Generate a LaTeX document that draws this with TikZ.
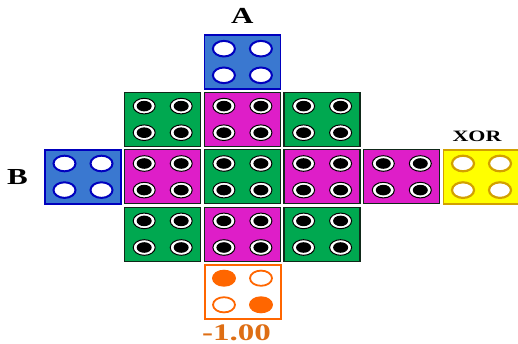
\documentclass[tikz,border=0pt]{standalone}
\usepackage{graphicx}
\usepackage{fontspec}
\setmainfont{Liberation Serif}
\usetikzlibrary{positioning}

\definecolor{tblue}{RGB}{58,120,208}
\definecolor{tbluedark}{RGB}{0,0,190}
\definecolor{tgreen}{RGB}{0,168,80}
\definecolor{tmagenta}{RGB}{222,30,200}
\definecolor{tdark}{RGB}{15,40,25}
\definecolor{tyellow}{RGB}{255,255,0}
\definecolor{tgold}{RGB}{210,160,0}
\definecolor{torange}{RGB}{255,102,0}
\definecolor{tnumber}{RGB}{222,110,20}

\begin{document}
\begin{tikzpicture}[x=1pt, y=-1pt,
    tile/.style={rectangle, minimum width=76pt, minimum height=54pt, inner sep=0pt},
    bluetile/.style={fill=tblue, draw=tbluedark, line width=1.8pt},
    greentile/.style={fill=tgreen, draw=tdark, line width=1.3pt},
    pinktile/.style={fill=tmagenta, draw=tdark, line width=1.3pt},
    yellowtile/.style={fill=tyellow, draw=tgold, line width=1.8pt},
    orangetile/.style={fill=white, draw=torange, line width=2pt},
    bluehole/.style={fill=white, draw=tbluedark, line width=2pt},
    blackhole/.style={fill=white, draw=black, line width=1pt},
    goldhole/.style={fill=white, draw=tgold, line width=2.2pt},
    nodot/.style={},
    blackdot/.style={fill=black},
    lbl/.style={inner sep=0pt, font=\bfseries}]
    \useasboundingbox (0,0) rectangle (518,344);
    % the tiles, column / row / tile style / hole style / dot style
    \foreach \c/\r/\t/\h/\d in {2/0/bluetile/bluehole/nodot,
        1/1/greentile/blackhole/blackdot, 2/1/pinktile/blackhole/blackdot, 3/1/greentile/blackhole/blackdot,
        0/2/bluetile/bluehole/nodot, 1/2/pinktile/blackhole/blackdot, 2/2/greentile/blackhole/blackdot,
        3/2/pinktile/blackhole/blackdot, 4/2/pinktile/blackhole/blackdot, 5/2/yellowtile/goldhole/nodot,
        1/3/greentile/blackhole/blackdot, 2/3/pinktile/blackhole/blackdot, 3/3/greentile/blackhole/blackdot} {
        \node[tile, \t] (t\c\r) at ({83+79.7*\c},{62+57.4*\r}) {};
        \foreach \dx/\dy in {-18.5/-13.3, 18.5/-13.3, -18.5/13.3, 18.5/13.3} {
            \path[\h] ([shift={(\dx,\dy)}]t\c\r.center) ellipse [x radius=11pt, y radius=7.8pt];
            \path[\d] ([shift={(\dx,\dy)}]t\c\r.center) ellipse [x radius=7.5pt, y radius=5.3pt];
        }
    }
    % the answer tile
    \node[tile, orangetile] (t24) at (242.5,291.5) {};
    \fill[torange] ([shift={(-18.5,-13.3)}]t24.center) ellipse [x radius=12pt, y radius=8.5pt];
    \fill[torange] ([shift={(18.5,13.3)}]t24.center) ellipse [x radius=12pt, y radius=8.5pt];
    \draw[torange, line width=1.8pt] ([shift={(18.5,-13.3)}]t24.center) ellipse [x radius=11pt, y radius=7.6pt];
    \draw[torange, line width=1.8pt] ([shift={(-18.5,13.3)}]t24.center) ellipse [x radius=11pt, y radius=7.6pt];
    % labels
    \node[lbl, font=\fontsize{31}{31}\selectfont\bfseries, above=10pt of t20] (labA) {\scalebox{1}[0.74]{A}};
    \node[lbl, font=\fontsize{31}{31}\selectfont\bfseries, left=16pt of t02] (labB) {\scalebox{1}[0.74]{B}};
    \node[lbl, font=\fontsize{22}{22}\selectfont\bfseries, above=7pt of t52, xshift=-4.5pt] (labX) {\scalebox{1}[0.72]{XOR}};
    \node[lbl, tnumber, font=\fontsize{33}{33}\selectfont\bfseries, below=5pt of t24, xshift=-6pt] (labN) {\scalebox{1}[0.72]{-1.00}};
\end{tikzpicture}
\end{document}
